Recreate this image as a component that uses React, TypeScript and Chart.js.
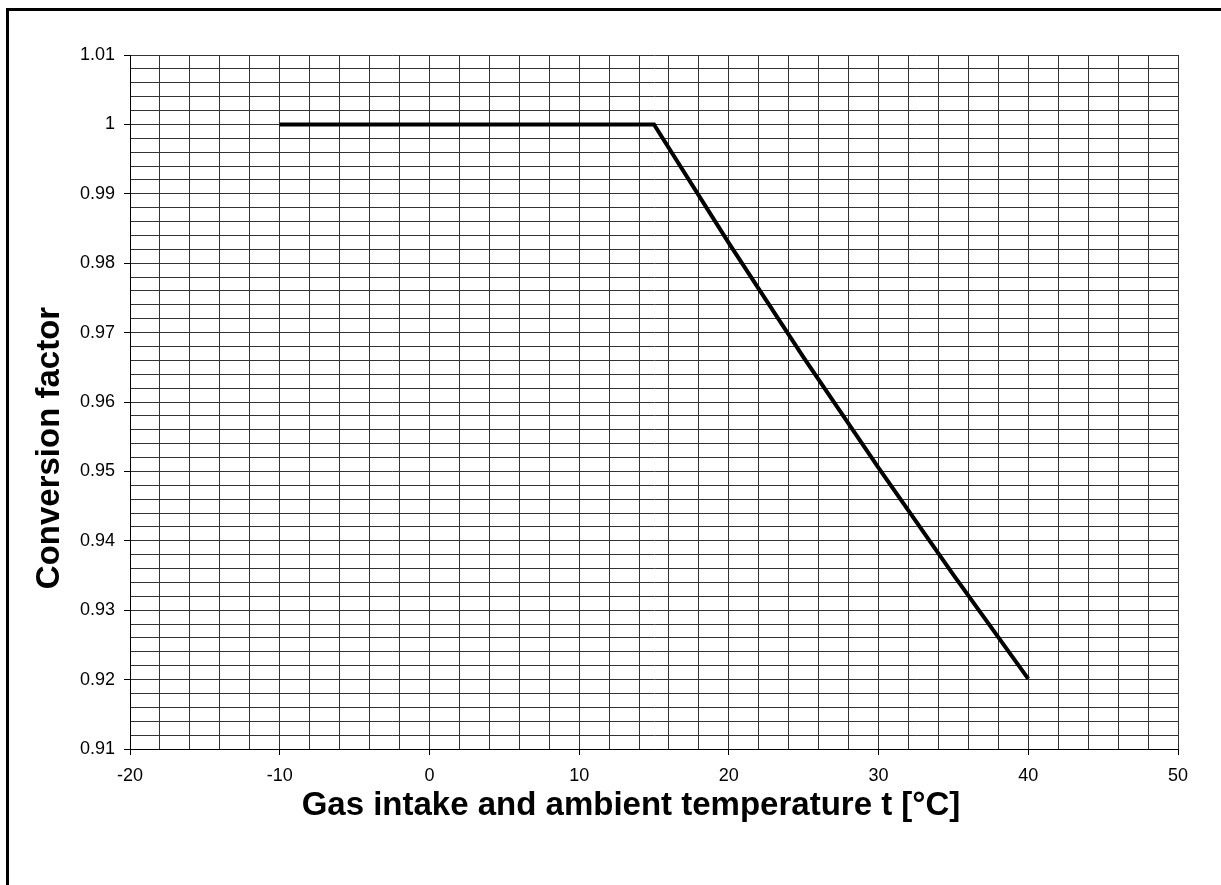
import React, { useEffect, useRef } from 'react';
import { Chart, registerables } from 'chart.js';

Chart.register(...registerables);

const temperatures = [-10, 15, 20, 25, 30, 35, 40];
const factors = [1, 1, 0.9829, 0.9664, 0.9505, 0.9351, 0.9201];
const xTickLabels = [-20, -10, 0, 10, 20, 30, 40, 50];
const yTickLabels = [0.91, 0.92, 0.93, 0.94, 0.95, 0.96, 0.97, 0.98, 0.99, 1, 1.01];
const xTitle = 'Gas intake and ambient temperature t [°C]';
const yTitle = 'Conversion factor';

const FONT = "'Liberation Sans', Arial, Helvetica, sans-serif";

const isX = (v: number) => xTickLabels.some((t) => Math.abs(t - v) < 1e-6);
const isY = (v: number) => yTickLabels.some((t) => Math.abs(t - v) < 1e-6);

const axisTitles = {
  id: 'axisTitles',
  afterDraw(chart: any) {
    const { ctx, chartArea } = chart;
    ctx.save();
    ctx.fillStyle = '#000';
    ctx.font = `bold 33px ${FONT}`;
    ctx.textAlign = 'center';
    ctx.textBaseline = 'middle';
    ctx.fillText(xTitle, (chartArea.left + chartArea.right) / 2 - 23, chartArea.bottom + 57);
    ctx.translate(50, (chartArea.top + chartArea.bottom) / 2 + 46);
    ctx.rotate(-Math.PI / 2);
    ctx.fillText(yTitle, 0, 0);
    ctx.restore();
  },
};

export default function App() {
  const ref = useRef<HTMLCanvasElement>(null);

  useEffect(() => {
    const canvas = ref.current!;
    const chart = new Chart(canvas, {
      type: 'line',
      data: {
        datasets: [
          {
            data: temperatures.map((t, i) => ({ x: t, y: factors[i] })),
            borderColor: '#000',
            borderWidth: 4,
            pointRadius: 0,
            tension: 0,
            fill: false,
          },
        ],
      },
      plugins: [axisTitles],
      options: {
        animation: false,
        responsive: false,
        events: [],
        plugins: { legend: { display: false }, tooltip: { enabled: false } },
        layout: { padding: { left: 0, top: 55, right: 43, bottom: 0 } },
        scales: {
          x: {
            type: 'linear',
            min: -20,
            max: 50,
            afterFit: (s: any) => {
              s.height = 136;
            },
            ticks: {
              stepSize: 2,
              autoSkip: false,
              maxRotation: 0,
              padding: 10,
              color: '#000',
              font: { family: FONT, size: 18 },
              callback: (v: any) => (isX(Number(v)) ? String(v) : ''),
            },
            grid: {
              color: '#333',
              lineWidth: 1,
              tickLength: 6,
              tickColor: (ctx: any) => (ctx.tick && isX(ctx.tick.value) ? '#000' : 'rgba(0,0,0,0)'),
            },
            border: { color: '#000', width: 1 },
            title: { display: false, text: xTitle },
          },
          y: {
            type: 'linear',
            min: 0.91,
            max: 1.01,
            afterFit: (s: any) => {
              s.width = 130;
            },
            ticks: {
              stepSize: 0.002,
              autoSkip: false,
              padding: 9,
              color: '#000',
              font: { family: FONT, size: 18 },
              callback: (v: any) => (isY(Number(v)) ? String(Math.round(Number(v) * 100) / 100) : ''),
            },
            grid: {
              color: '#333',
              lineWidth: 1,
              tickLength: 6,
              tickColor: (ctx: any) => (ctx.tick && isY(ctx.tick.value) ? '#000' : 'rgba(0,0,0,0)'),
            },
            border: { color: '#000', width: 1 },
            title: { display: false, text: yTitle },
          },
        },
      },
    });
    return () => chart.destroy();
  }, []);

  return (
    <>
      <div
        style={{
          position: 'fixed',
          left: 6,
          top: 8,
          width: 1400,
          height: 1000,
          border: '3px solid #000',
          boxSizing: 'border-box',
        }}
      />
      <canvas
        ref={ref}
        width={1221}
        height={885}
        style={{ position: 'fixed', left: 0, top: 0, width: 1221, height: 885 }}
      />
    </>
  );
}
